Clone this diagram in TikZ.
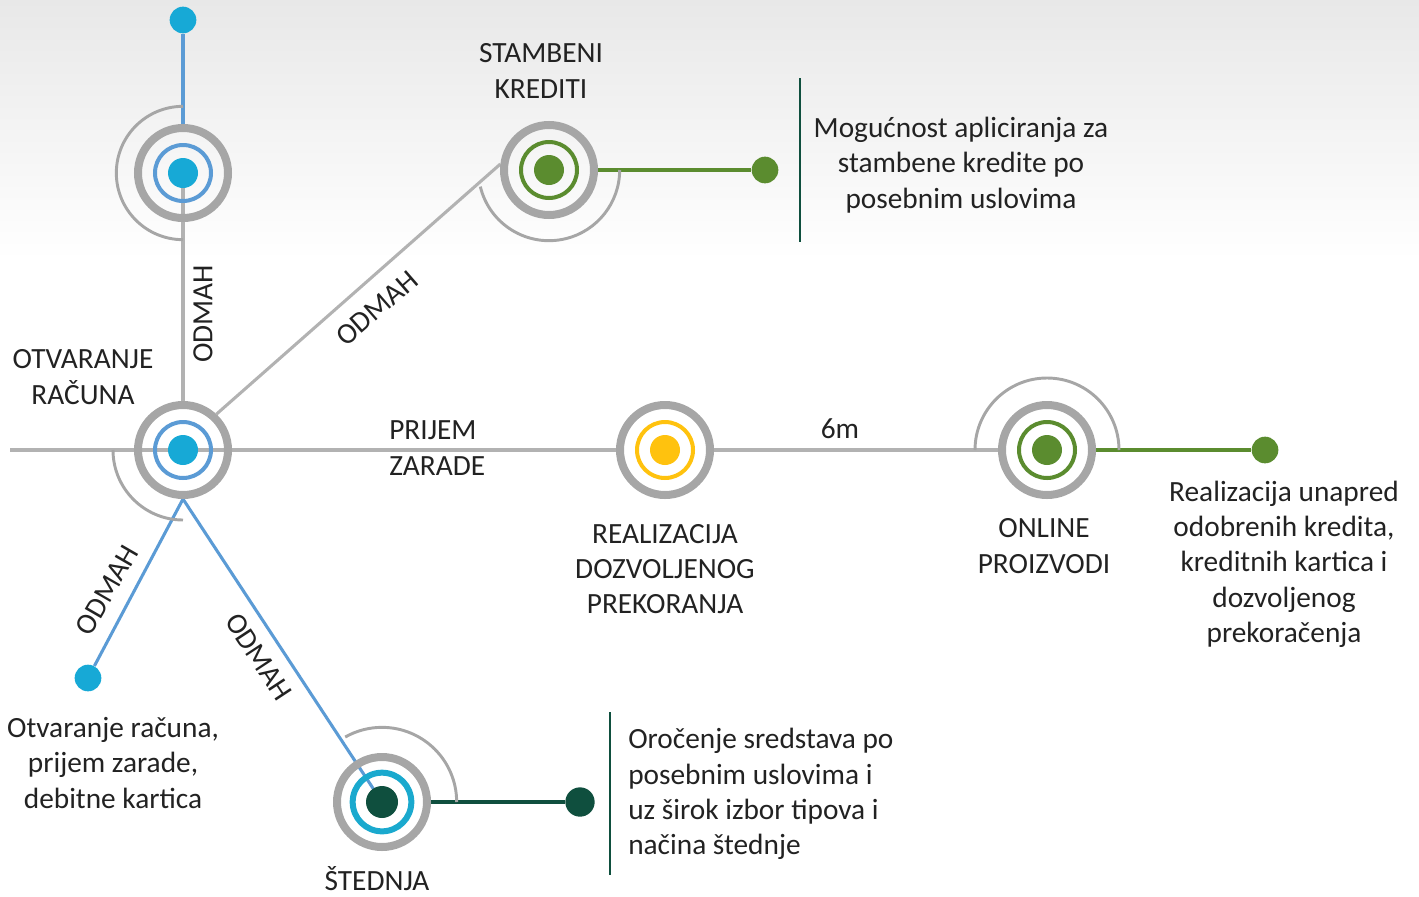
\documentclass[tikz,border=0pt]{standalone}
\usepackage{fontspec}
\setmainfont{Carlito}
\usetikzlibrary{backgrounds}
\definecolor{ringgray}{HTML}{A6A6A6}
\definecolor{linegray}{HTML}{B2B2B2}
\definecolor{lblue}{HTML}{5B9BD5}
\definecolor{cyandot}{HTML}{17A9D6}
\definecolor{grn}{HTML}{5B8C2F}
\definecolor{yel}{HTML}{FFC20E}
\definecolor{dgreen}{HTML}{0F4F3E}
\definecolor{tealring}{HTML}{1AA9CE}
\definecolor{txt}{HTML}{222222}
\begin{document}
\begin{tikzpicture}[x=0.75pt,y=0.75pt,
  outerring/.style={circle, draw=ringgray, line width=6pt, minimum size=67.5pt, inner sep=0pt},
  innerring/.style={circle, draw=#1, line width=3pt, minimum size=42pt, inner sep=0pt},
  centerdot/.style={circle, fill=#1, minimum size=22.5pt, inner sep=0pt},
  enddot/.style={circle, fill=#1, minimum size=20pt, inner sep=0pt},
  grayline/.style={draw=linegray, line width=2.3pt},
  colline/.style={draw=#1, line width=2.3pt},
  thinarc/.style={draw=ringgray, line width=2.2pt},
  bar/.style={draw=dgreen, line width=2.2pt},
  lab/.style={text=txt, font=\fontsize{22}{26.5}\selectfont, inner sep=0pt, align=center}
]
\useasboundingbox (0,0) rectangle (1419,-896);
% stations
\node[outerring] (A) at (183,-173) {};
\node[innerring=lblue] (Ai) at (183,-173) {};
\node[centerdot=cyandot] (Ad) at (183,-173) {};
\node[outerring] (C) at (183,-450) {};
\node[innerring=lblue] (Ci) at (183,-450) {};
\node[centerdot=cyandot] (Cd) at (183,-450) {};
\node[outerring] (S) at (549,-170) {};
\node[innerring=grn] (Si) at (549,-170) {};
\node[centerdot=grn] (Sd) at (549,-170) {};
\node[outerring] (R) at (665,-450) {};
\node[innerring=yel] (Ri) at (665,-450) {};
\node[centerdot=yel] (Rd) at (665,-450) {};
\node[outerring] (O) at (1047,-450) {};
\node[innerring=grn] (Oi) at (1047,-450) {};
\node[centerdot=grn] (Od) at (1047,-450) {};
\node[outerring] (T) at (382,-802) {};
\node[circle, draw=tealring, line width=4.5pt, minimum size=44pt, inner sep=0pt] (Ti) at (382,-802) {};
\node[centerdot=dgreen, minimum size=24pt] (Td) at (382,-802) {};
% end dots
\node[enddot=cyandot] (topdot) at (183,-20) {};
\node[enddot=grn] (sdot) at (765,-170) {};
\node[enddot=grn] (odot) at (1265,-450) {};
\node[enddot=cyandot] (ldot) at (88,-678) {};
\node[enddot=dgreen, minimum size=22pt] (tdot) at (580,-802) {};
\coordinate (lft) at (10,-450);
% thin arcs
\draw[thinarc] (A.center) ++(90:50pt) arc[start angle=90, end angle=270, radius=50pt];
\draw[thinarc] (C.center) ++(180:52.5pt) arc[start angle=180, end angle=270, radius=52.5pt];
\draw[thinarc] (S.center) ++(193.6:53pt) arc[start angle=193.6, end angle=360, radius=53pt];
\draw[thinarc] (O.center) ++(0:54pt) arc[start angle=0, end angle=180, radius=54pt];
\draw[thinarc] (T.center) ++(0:56pt) arc[start angle=0, end angle=119.5, radius=56pt];
% connectors
\begin{scope}[on background layer]
\shade[top color=black!9, bottom color=white] (0,0) rectangle (1419,-260);
\draw[colline=lblue] (topdot) -- (A);
\draw[grayline] (A.center) -- (C);
\draw[grayline] (C.47) -- (S.173);
\draw[grayline] (lft) -- (C.center) -- (R);
\draw[grayline] (R) -- (O);
\draw[colline=grn] (O) -- (odot);
\draw[colline=grn] (S) -- (sdot);
\draw[colline=lblue] (C.south) -- (ldot);
\draw[colline=lblue] (C.south) -- (T.center);
\draw[colline=dgreen] (T) -- (tdot);
\end{scope}
% bars
\coordinate (b1t) at (800,-78); \coordinate (b1b) at (800,-242);
\coordinate (b2t) at (610,-712); \coordinate (b2b) at (610,-875);
\draw[bar] (b1t) -- (b1b);
\draw[bar] (b2t) -- (b2b);
% labels
\node[lab] (lC) at (83,-377) {OTVARANJE\\RAČUNA};
\node[lab] (lS) at (541,-71) {STAMBENI\\KREDITI};
\node[lab, align=left, anchor=west] (lP) at (389,-448) {PRIJEM\\ZARADE};
\node[lab] (lR) at (665,-569) {REALIZACIJA\\DOZVOLJENOG\\PREKORANJA};
\node[lab] (l6) at (840,-429) {6m};
\node[lab] (lO) at (1044,-546) {ONLINE\\PROIZVODI};
\node[lab] (lT) at (377,-879) {ŠTEDNJA};
\node[lab] (dS) at (961,-165) {Mogućnost apliciranja za\\stambene kredite po\\posebnim uslovima};
\node[lab] (dO) at (1284,-564) {Realizacija unapred\\odobrenih kredita,\\kreditnih kartica i\\dozvoljenog\\prekoračenja};
\node[lab] (dL) at (113,-763) {Otvaranje računa,\\prijem zarade,\\debitne kartica};
\node[lab, align=left, anchor=west] (dT) at (628,-794) {Oročenje sredstava po\\posebnim uslovima i\\uz širok izbor tipova i\\načina štednje};
\node[lab, rotate=90] (o1) at (203,-314) {ODMAH};
\node[lab, rotate=41] (o2) at (377,-308) {ODMAH};
\node[lab, rotate=60] (o3) at (107,-590) {ODMAH};
\node[lab, rotate=-56.6] (o4) at (259,-657) {ODMAH};
\end{tikzpicture}
\end{document}
